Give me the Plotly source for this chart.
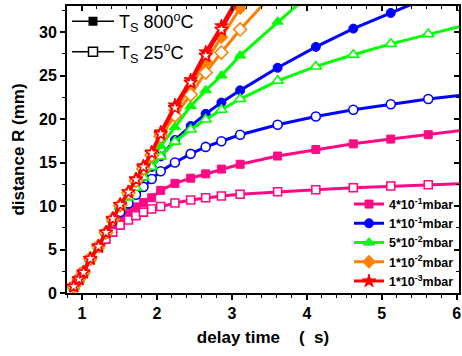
import plotly.graph_objects as go

# delay time (common sampling)
X = [0.89, 0.96, 1.02, 1.11, 1.22, 1.32, 1.41, 1.51, 1.62, 1.72, 1.82, 1.93,
     2.05, 2.24, 2.45, 2.65, 2.86, 3.11, 3.61, 4.12, 4.62, 5.12, 5.62, 6.12]

# distance R (mm), Ts = 800 C (filled) and 25 C (open)
pink_hot = [0.75, 1.6, 2.4, 3.9, 5.3, 6.8, 7.9, 8.7, 9.3, 9.9, 10.4, 10.95,
            11.8, 12.6, 13.2, 13.7, 14.25, 14.8, 15.75, 16.5, 17.15, 17.7, 18.2, 18.75]
pink_cold = [0.75, 1.55, 2.35, 3.85, 5.2, 6.2, 7.0, 7.8, 8.4, 8.9, 9.3, 9.65,
             9.95, 10.35, 10.7, 10.95, 11.15, 11.35, 11.65, 11.87, 12.1, 12.3, 12.45, 12.6]
blue_hot = [0.75, 1.6, 2.4, 3.95, 5.4, 6.95, 8.5, 10.0, 11.2, 12.3, 13.4, 14.5,
            15.7, 17.6, 19.2, 20.6, 21.9, 23.3, 25.9, 28.3, 30.4, 32.2, 34.0]
blue_cold = [0.75, 1.6, 2.4, 3.95, 5.35, 6.85, 8.3, 9.3, 10.3, 11.3, 12.2, 13.1,
             14.0, 15.0, 16.0, 16.8, 17.45, 18.2, 19.35, 20.3, 21.07, 21.7, 22.3, 22.8]
green_hot = [0.75, 1.6, 2.4, 3.95, 5.4, 6.95, 8.5, 10.1, 11.5, 12.9, 14.2, 15.5,
             16.9, 19.1, 21.5, 23.3, 25.0, 27.3, 31.2, 35.0]
green_cold = [0.75, 1.6, 2.4, 3.95, 5.4, 6.95, 8.45, 9.9, 11.0, 12.1, 13.3, 14.5,
              15.7, 17.4, 18.8, 19.95, 21.07, 22.3, 24.4, 26.05, 27.4, 28.65, 29.77, 30.8]
orange_hot = [0.75, 1.6, 2.4, 3.95, 5.4, 6.95, 8.5, 10.1, 11.6, 13.0, 14.5, 16.0,
              18.3, 21.0, 23.7, 26.6, 29.4, 32.75, 38.5]
orange_cold = [0.75, 1.6, 2.4, 3.95, 5.4, 6.95, 8.5, 10.1, 11.5, 12.9, 14.3, 15.8,
               18.0, 20.4, 22.8, 25.35, 27.65, 30.3, 35.0]
red_hot = [0.76, 1.6, 2.37, 3.94, 5.36, 6.97, 8.54, 10.15, 11.6, 13.1, 14.6, 16.2,
           18.5, 21.6, 24.5, 27.7, 30.7, 34.5]
red_cold = [0.76, 1.6, 2.37, 3.94, 5.36, 6.97, 8.54, 10.15, 11.6, 13.05, 14.5, 16.1,
            18.3, 21.3, 24.2, 27.3, 30.3, 34.0]

pressure_labels = ["4*10<sup>-1</sup>mbar", "1*10<sup>-1</sup>mbar", "5*10<sup>-2</sup>mbar",
                   "1*10<sup>-2</sup>mbar", "1*10<sup>-3</sup>mbar"]
temp_labels = ["T<sub>S</sub> 800<sup>o</sup>C", "T<sub>S</sub> 25<sup>o</sup>C"]

colors = ["#FF0A84", "#0000FF", "#00FF00", "#FF8000", "#FF0000"]
symbols = ["square", "circle", "triangle-up", "diamond", "star"]
msizes = [8, 9, 10, 10, 10]
hot = [pink_hot, blue_hot, green_hot, orange_hot, red_hot]
cold = [pink_cold, blue_cold, green_cold, orange_cold, red_cold]

FONT = "Liberation Sans, Arial, sans-serif"

fig = go.Figure()
for i in range(5):
    yh = hot[i]
    fig.add_trace(go.Scatter(
        x=X[:len(yh)], y=yh, mode="lines+markers", name=pressure_labels[i],
        legend="legend",
        line=dict(color=colors[i], width=3),
        marker=dict(symbol=symbols[i], size=msizes[i], color=colors[i],
                    line=dict(color=colors[i], width=1))))
    yc = cold[i]
    fig.add_trace(go.Scatter(
        x=X[:len(yc)], y=yc, mode="lines+markers", showlegend=False,
        line=dict(color=colors[i], width=3),
        marker=dict(symbol=symbols[i], size=msizes[i], color="white",
                    line=dict(color=colors[i], width=1.6))))

# temperature key (legend only)
fig.add_trace(go.Scatter(x=[None], y=[None], mode="lines+markers", name=temp_labels[0],
                         legend="legend2", legendgroup="t1", xaxis="x2", yaxis="y2",
                         line=dict(color="black", width=1.5),
                         marker=dict(symbol="square", size=9, color="black")))
fig.add_trace(go.Scatter(x=[None], y=[None], mode="lines+markers", name=temp_labels[1],
                         legend="legend2", legendgroup="t2", xaxis="x2", yaxis="y2",
                         line=dict(color="black", width=1.5),
                         marker=dict(symbol="square", size=9, color="white",
                                     line=dict(color="black", width=1.5))))

XR = [0.8, 6.03]
YR = [0, 33]
tickfont = dict(family=FONT, size=16, color="black", weight="bold")

fig.update_layout(
    width=462, height=356,
    margin=dict(l=67, r=3, t=6, b=63, autoexpand=False),
    paper_bgcolor="white", plot_bgcolor="white",
    font=dict(family=FONT, color="black"),
    xaxis=dict(range=XR, dtick=1, tick0=0, ticks="outside", ticklen=5, tickwidth=1.5,
               tickcolor="black", showline=True, linewidth=2, linecolor="black",
               showgrid=False, zeroline=False, tickfont=tickfont, automargin=False,
               minor=dict(dtick=0.2, tick0=0, ticks="outside", ticklen=3, tickwidth=1.2,
                          tickcolor="black", showgrid=False),
               title=dict(text="delay time\u00a0\u00a0\u00a0\u00a0(\u00a0\u00a0s)",
                          font=dict(family=FONT, size=17, color="black", weight="bold"),
                          standoff=10)),
    yaxis=dict(range=YR, dtick=5, tick0=0, ticks="outside", ticklen=5, tickwidth=1.5,
               tickcolor="black", showline=True, linewidth=2, linecolor="black",
               showgrid=False, zeroline=False, tickfont=tickfont, automargin=False,
               minor=dict(dtick=2.5, tick0=0, ticks="outside", ticklen=3, tickwidth=1.2,
                          tickcolor="black", showgrid=False),
               title=dict(text="distance R (mm)",
                          font=dict(family=FONT, size=17, color="black", weight="bold"),
                          standoff=10)),
    xaxis2=dict(range=XR, overlaying="x", side="top", anchor="y2", dtick=1, tick0=0,
                ticks="inside", ticklen=5, tickwidth=1.5, tickcolor="black",
                showline=True, linewidth=2, linecolor="black", showgrid=False,
                zeroline=False, showticklabels=False, automargin=False,
                minor=dict(dtick=0.2, tick0=0, ticks="inside", ticklen=3, tickwidth=1.2,
                           tickcolor="black", showgrid=False)),
    yaxis2=dict(range=YR, overlaying="y", side="right", anchor="x2", dtick=5, tick0=0,
                ticks="inside", ticklen=5, tickwidth=1.5, tickcolor="black",
                showline=True, linewidth=2, linecolor="black", showgrid=False,
                zeroline=False, showticklabels=False, automargin=False,
                minor=dict(dtick=2.5, tick0=0, ticks="inside", ticklen=3, tickwidth=1.2,
                           tickcolor="black", showgrid=False)),
    legend=dict(x=1.0, xanchor="right", y=-0.012, yanchor="bottom", bgcolor="rgba(0,0,0,0)",
                borderwidth=0, tracegroupgap=0,
                font=dict(family=FONT, size=12.5, color="black", weight="bold")),
    legend2=dict(x=0.0, xanchor="left", y=1.01, yanchor="top", bgcolor="rgba(0,0,0,0)",
                 borderwidth=0, tracegroupgap=4, itemwidth=42,
                 font=dict(family=FONT, size=18, color="black")),
)

fig.write_html("out.html", config={"displayModeBar": False},
               post_script="document.body.style.margin='0';document.body.style.padding='0';")
